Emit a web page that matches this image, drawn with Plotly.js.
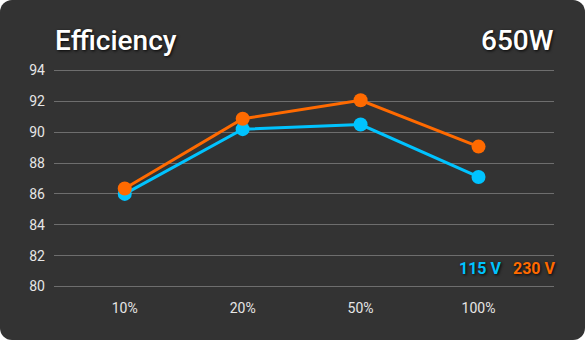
<!DOCTYPE html>
<html>
<head>
<meta charset="utf-8">
<script src="https://cdn.plot.ly/plotly-3.0.1.min.js"></script>
<style>
  html, body { margin: 0; padding: 0; background: #ffffff; }
  #chart { width: 585px; height: 340px; background: #333333; border-radius: 12px; overflow: hidden; }
</style>
</head>
<body>
<div id="chart"></div>
<script>
const loads = ['10%', '20%', '50%', '100%'];
const eff115 = [86.0, 90.2, 90.5, 87.1];
const eff230 = [86.35, 90.87, 92.07, 89.07];
const seriesNames = ['115 V', '230 V'];
const seriesColors = ['#00c3ff', '#ff6a00'];
const yTicks = [80, 82, 84, 86, 88, 90, 92, 94];
const chartTitle = 'Efficiency';
const wattage = '650W';

const traces = [
  {
    x: loads, y: eff115, name: seriesNames[0], type: 'scatter', mode: 'lines+markers',
    line: { color: seriesColors[0], width: 3 },
    marker: { color: seriesColors[0], size: 14 }
  },
  {
    x: loads, y: eff230, name: seriesNames[1], type: 'scatter', mode: 'lines+markers',
    line: { color: seriesColors[1], width: 3 },
    marker: { color: seriesColors[1], size: 14 }
  }
];

const shadow = '1px 1px 3px rgba(0,0,0,0.9)';

const layout = {
  width: 585, height: 340,
  paper_bgcolor: 'rgba(0,0,0,0)',
  plot_bgcolor: 'rgba(0,0,0,0)',
  margin: { l: 54, r: 31, t: 68.5, b: 51.5 },
  showlegend: false,
  font: { family: 'Roboto, sans-serif', color: '#e6e6e6', size: 13 },
  xaxis: {
    type: 'category',
    range: [-0.6, 3.64],
    showgrid: false, zeroline: false, showline: false,
    ticks: '', ticklabelstandoff: 10,
    tickfont: { size: 14, color: '#e6e6e6' }
  },
  yaxis: {
    range: [79.9, 94.1],
    tickvals: yTicks,
    showgrid: true, gridcolor: '#6e6e6e', gridwidth: 1,
    zeroline: false, showline: false, ticks: '',
    ticklabelstandoff: 8,
    tickfont: { size: 14, color: '#e6e6e6' }
  },
  annotations: [
    { text: chartTitle, xref: 'paper', yref: 'paper', x: -0.002, y: 1.13, xanchor: 'left', yanchor: 'middle',
      showarrow: false, font: { size: 28, weight: 500, color: '#ffffff', shadow: shadow } },
    { text: wattage, xref: 'paper', yref: 'paper', x: 1.004, y: 1.13, xanchor: 'right', yanchor: 'middle',
      showarrow: false, font: { size: 28, weight: 500, color: '#ffffff', shadow: shadow } },
    { text: seriesNames[0], xref: 'paper', yref: 'y', x: 0.9, y: 81.15, xanchor: 'right', yanchor: 'middle',
      showarrow: false, font: { size: 16, weight: 700, color: seriesColors[0], shadow: shadow } },
    { text: seriesNames[1], xref: 'paper', yref: 'y', x: 1.008, y: 81.15, xanchor: 'right', yanchor: 'middle',
      showarrow: false, font: { size: 16, weight: 700, color: seriesColors[1], shadow: shadow } }
  ]
};

Plotly.newPlot('chart', traces, layout, { displayModeBar: false, staticPlot: true });
</script>
</body>
</html>
